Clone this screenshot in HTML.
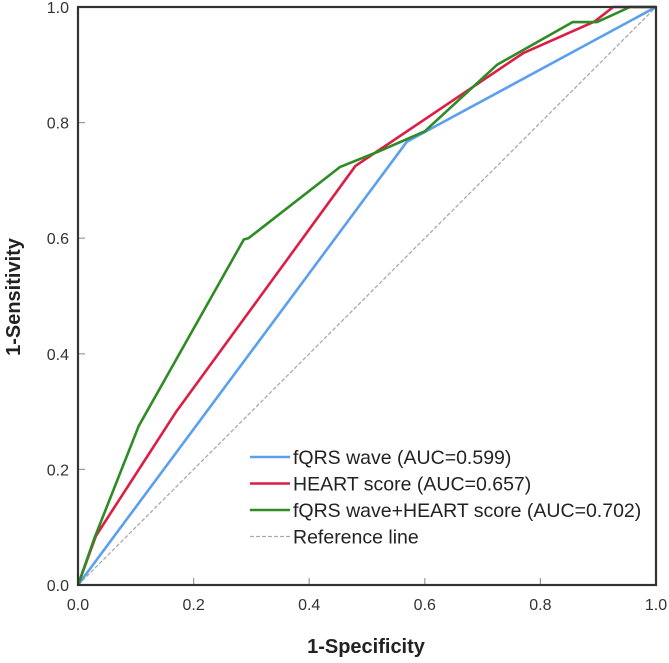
<!DOCTYPE html>
<html><head><meta charset="utf-8"><style>
html,body{margin:0;padding:0;background:#fff;}
svg{display:block;font-family:"Liberation Sans",Arial,sans-serif;}
</style></head><body>
<svg id="chart" width="669" height="663" viewBox="0 0 669 663"></svg>
<script>
const xTicks=[0,0.2,0.4,0.6,0.8,1.0];
const yTicks=[0,0.2,0.4,0.6,0.8,1.0];
const tickLabels=["0.0","0.2","0.4","0.6","0.8","1.0"];
const seriesNames=["fQRS wave (AUC=0.599)","HEART score (AUC=0.657)","fQRS wave+HEART score (AUC=0.702)","Reference line"];
const fqrsX=[0,0.569,1];
const fqrsY=[0,0.767,1];
const heartX=[0,0.031,0.17,0.48,0.77,0.894,0.926,1];
const heartY=[0,0.085,0.30,0.725,0.92,0.975,1,1];
const comboX=[0,0.028,0.105,0.287,0.295,0.453,0.52,0.60,0.725,0.856,0.898,0.955,1];
const comboY=[0,0.08,0.275,0.598,0.60,0.723,0.75,0.785,0.90,0.974,0.974,1,1];
const refX=[0,1];
const refY=[0,1];

const NS="http://www.w3.org/2000/svg";
const svg=document.getElementById('chart');
const X0=78,X1=656,Y0=585,Y1=7;
function sx(v){return X0+(X1-X0)*v;}
function sy(v){return Y0-(Y0-Y1)*v;}
function mk(tag,attrs,parent){const e=document.createElementNS(NS,tag);for(const k in attrs)e.setAttribute(k,attrs[k]);(parent||svg).appendChild(e);return e;}

xTicks.forEach((v,i)=>{
  const t=mk('line',{x1:sx(v),x2:sx(v),y1:Y0,y2:Y0-7,stroke:'#999','stroke-width':1.2});
  
  
  const l=mk('text',{x:sx(v),y:Y0+25,'text-anchor':'middle','font-size':16,fill:'#333'});
  l.textContent=tickLabels[i];
  
  
});
yTicks.forEach((v,i)=>{
  const t=mk('line',{x1:X0,x2:X0+7,y1:sy(v),y2:sy(v),stroke:'#999','stroke-width':1.2});
  
  
  const l=mk('text',{x:69,y:sy(v)+6,'text-anchor':'end','font-size':16,fill:'#333'});
  l.textContent=tickLabels[i];
  
  
});

function series(xs,ys,color,w,dash,name){
  const p=mk('polyline',{points:xs.map((x,i)=>sx(x)+','+sy(ys[i])).join(' '),fill:'none',stroke:color,'stroke-width':w,'stroke-linejoin':'round'});
  if(dash)p.setAttribute('stroke-dasharray',dash);
  
  
}
series(refX,refY,'#aaaaaa',1.3,'4,2','reference-line');
series(fqrsX,fqrsY,'#5aa0ee',2.6,null,'fqrs-wave-curve');
series(heartX,heartY,'#dc1e45',2.6,null,'heart-score-curve');
series(comboX,comboY,'#2e8b25',2.6,null,'combined-curve');

const fr=mk('rect',{x:X0,y:Y1,width:X1-X0,height:Y0-Y1,fill:'none',stroke:'#333','stroke-width':2.2});



const colors=['#5aa0ee','#dc1e45','#2e8b25','#aaaaaa'];
colors.forEach((c,i)=>{
  const y=457+i*26.5;
  const ln=mk('line',{x1:250,x2:290,y1:y,y2:y,stroke:c,'stroke-width':i<3?2.6:1.3});
  if(i===3)ln.setAttribute('stroke-dasharray','4,2');
  
  
  const t=mk('text',{x:293,y:y+7,'font-size':19.5,fill:'#222'});
  t.textContent=seriesNames[i];
  
  
});

const xt=mk('text',{x:366,y:653,'text-anchor':'middle','font-size':20,'font-weight':'bold',fill:'#222'});
xt.textContent='1-Specificity';


const yt=mk('text',{x:0,y:0,'text-anchor':'middle','font-size':20,'font-weight':'bold',fill:'#222',transform:'translate(20,297) rotate(-90)'});
yt.textContent='1-Sensitivity';


</script>
</body></html>
